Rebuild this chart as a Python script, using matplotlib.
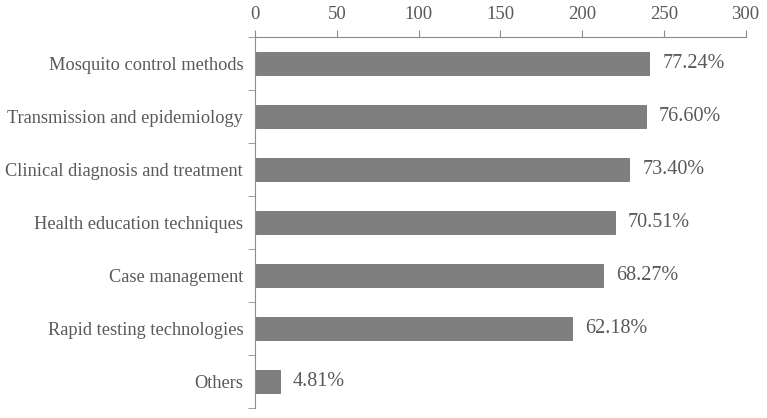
import matplotlib.pyplot as plt
import numpy as np

categories = ["Mosquito control methods", "Transmission and epidemiology",
              "Clinical diagnosis and treatment", "Health education techniques",
              "Case management", "Rapid testing technologies", "Others"]
counts = [241, 239, 229, 220, 213, 194, 15]
percents = ["77.24%", "76.60%", "73.40%", "70.51%", "68.27%", "62.18%", "4.81%"]
xticks = [0, 50, 100, 150, 200, 250, 300]

plt.rcParams['font.family'] = ['Liberation Serif', 'DejaVu Serif']
txt = '#595959'
axcol = '#8c8c8c'

fig = plt.figure(figsize=(7.67, 4.18), dpi=100)
ax = fig.add_axes([0.3325, 0.024, 0.6395, 0.8875])

y = np.arange(len(categories))
ax.barh(y, counts, height=0.43, color='#7f7f7f', edgecolor='#737373', linewidth=0.6)

for yi, c, p in zip(y, counts, percents):
    ax.text(c + 8, yi, p, va='center', ha='left', fontsize=14.5, color=txt)

ax.set_xlim(0, 300)
ax.set_ylim(len(categories) - 0.5, -0.5)
ax.set_xticks(xticks)
ax.xaxis.tick_top()
ax.tick_params(axis='x', direction='out', length=5, color=axcol, labelsize=13.5, labelcolor=txt, pad=5)

ax.set_yticks(y)
ax.set_yticklabels(categories)
ax.set_yticks(np.arange(-0.5, len(categories)), minor=True)
ax.tick_params(axis='y', which='major', length=0, pad=8.5, labelsize=13.2, labelcolor=txt)
ax.tick_params(axis='y', which='minor', length=5, color=axcol)

for s in ['right', 'bottom']:
    ax.spines[s].set_visible(False)
for s in ['top', 'left']:
    ax.spines[s].set_color(axcol)

fig.savefig('out.png', dpi=100, facecolor='white')
